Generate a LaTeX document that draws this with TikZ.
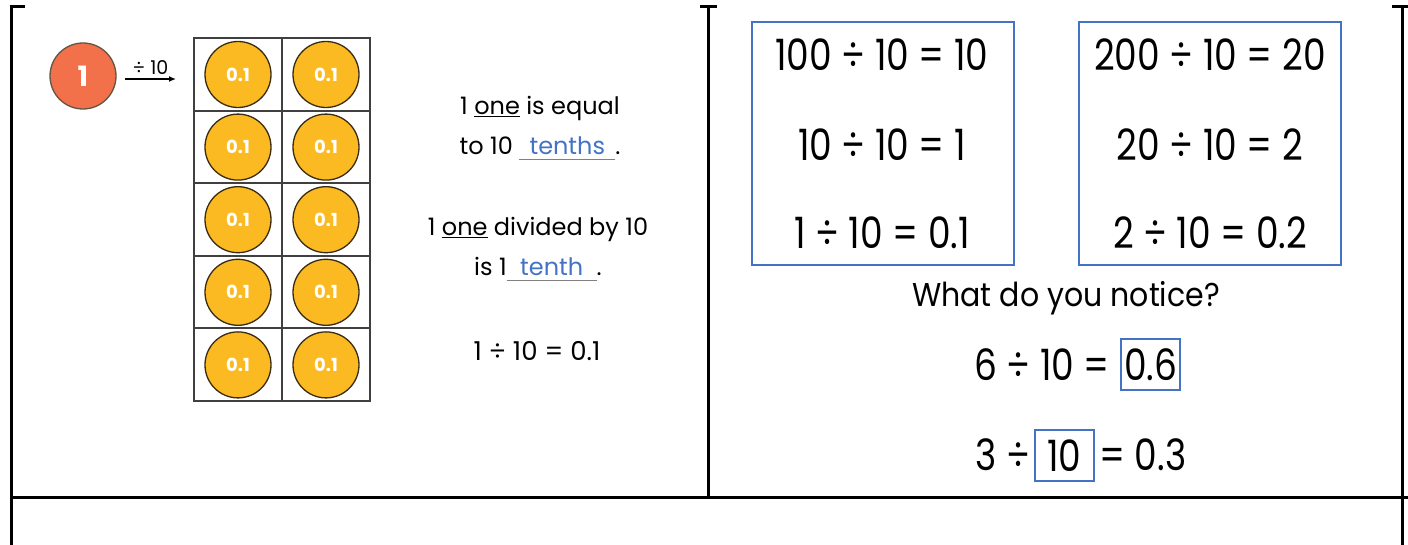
\documentclass[tikz,border=0pt]{standalone}
\usepackage{fontspec}
\setmainfont{Poppins}
\usetikzlibrary{arrows.meta}
\definecolor{ansblue}{HTML}{4472C4}
\definecolor{coinyel}{HTML}{FBBA22}
\definecolor{coinorg}{HTML}{F2704A}
\definecolor{coinedge}{HTML}{3A2C12}
\newcommand{\blankfill}[2]{\rlap{\color{gray}\rule[-5pt]{#1}{1pt}}\makebox[#1]{\color{ansblue}#2}}
\newcommand{\ulword}[1]{\underline{#1}}
\newcommand{\tallq}[1]{\scalebox{1}[1.2]{#1}}
\tikzset{
  frame/.style={line width=3pt,black},
  cellline/.style={line width=1.3pt,draw=black!75},
  coin/.style={circle,draw=coinedge,line width=1.3pt,fill=coinyel,minimum size=66pt,inner sep=0pt,text=white,font=\bfseries\fontsize{18}{18}\selectfont},
  bigcoin/.style={circle,draw=coinedge!80,line width=1.3pt,fill=coinorg,minimum size=66pt,inner sep=0pt,text=white,font=\bfseries\fontsize{28}{28}\selectfont},
  stmt/.style={align=center,font=\fontsize{24}{40}\selectfont,inner sep=0pt},
  eqtext/.style={font=\fontsize{36}{36}\selectfont,inner sep=0pt},
  eqbox/.style={draw=ansblue,line width=2pt,minimum width=262pt,minimum height=243pt,inner sep=0pt},
  ansbox/.style={draw=ansblue,line width=1.8pt,minimum width=59pt,minimum height=51pt,inner sep=0pt,font=\fontsize{36}{36}\selectfont},
}
\begin{document}
\begin{tikzpicture}[x=1pt,y=-1pt]
\useasboundingbox (0,0) rectangle (1408,545);
\fill[white] (0,0) rectangle (1408,545);
% table frame
\draw[frame] (11,7) -- (11,545);
\draw[frame] (708,7) -- (708,497);
\draw[frame] (1402,7) -- (1402,545);
\draw[frame] (11,497) -- (1408,497);
\draw[frame] (9.5,7) -- (25,7);
\draw[frame] (700,7) -- (717,7);
\draw[frame] (1392,7) -- (1408,7);
% left cell
\node[bigcoin] (one) at (83,76) {1};
\node[draw=none,minimum width=176pt,minimum height=363pt,inner sep=0pt] (grid) at (282,219.5) {};
\draw[cellline] (194,38) rectangle (370,401);
\draw[cellline] (282,38) -- (282,401);
\foreach \yy in {111,183,256,328} \draw[cellline] (194,\yy) -- (370,\yy);
\foreach \r [evaluate=\r as \cy using {74.5+72.6*(\r-1)}] in {1,...,5}{
  \node[coin] (c\r a) at (238,\cy) {0.1};
  \node[coin] (c\r b) at (326,\cy) {0.1};
}
\coordinate (arrs) at (125,79);
\coordinate (arre) at (176,79);
\draw[line width=1.6pt,-{Latex[length=7pt,width=6pt]}] (arrs) -- (arre) node[midway,above=4pt,font=\fontsize{19}{19}\selectfont,inner sep=0pt] (divlab) {÷ 10};
\node[stmt] (s1) at (540,128) {1 \ulword{one} is equal\\ to 10 \blankfill{96pt}{tenths}.};
\node[stmt] (s2) at (538,249) {1 \ulword{one} divided by 10\\ is 1\blankfill{90pt}{tenth}.};
\node[stmt,font=\fontsize{26}{26}\selectfont] (s3) at (537,351) {1 ÷ 10 = 0.1};
% right cell
\node[eqbox] (boxa) at (882.5,143.5) {};
\node[eqbox] (boxb) at (1209.5,143.5) {};
\node[eqtext] (a1) at (882,55) {\tallq{100 ÷ 10 = 10}};
\node[eqtext] (a2) at (882,145) {\tallq{10 ÷ 10 = 1}};
\node[eqtext] (a3) at (882,233) {\tallq{1 ÷ 10 = 0.1}};
\node[eqtext] (b1) at (1210,55) {\tallq{200 ÷ 10 = 20}};
\node[eqtext] (b2) at (1210,145) {\tallq{20 ÷ 10 = 2}};
\node[eqtext] (b3) at (1210,233) {\tallq{2 ÷ 10 = 0.2}};
\node[font=\fontsize{30}{30}\selectfont,inner sep=0pt] (notice) at (1066,298) {\scalebox{1}[1.1]{What do you notice?}};
\node[ansbox] (ans6) at (1150.5,364.5) {\tallq{0.6}};
\node[eqtext,anchor=east] (eq6) at (1110,365) {\tallq{6 ÷ 10 =}};
\node[ansbox] (ans3) at (1064.5,455.5) {\tallq{10}};
\node[eqtext,anchor=east] (eq3l) at (1030,455) {\tallq{3 ÷}};
\node[eqtext,anchor=west] (eq3r) at (1099,455) {\tallq{= 0.3}};
\end{tikzpicture}
\end{document}
